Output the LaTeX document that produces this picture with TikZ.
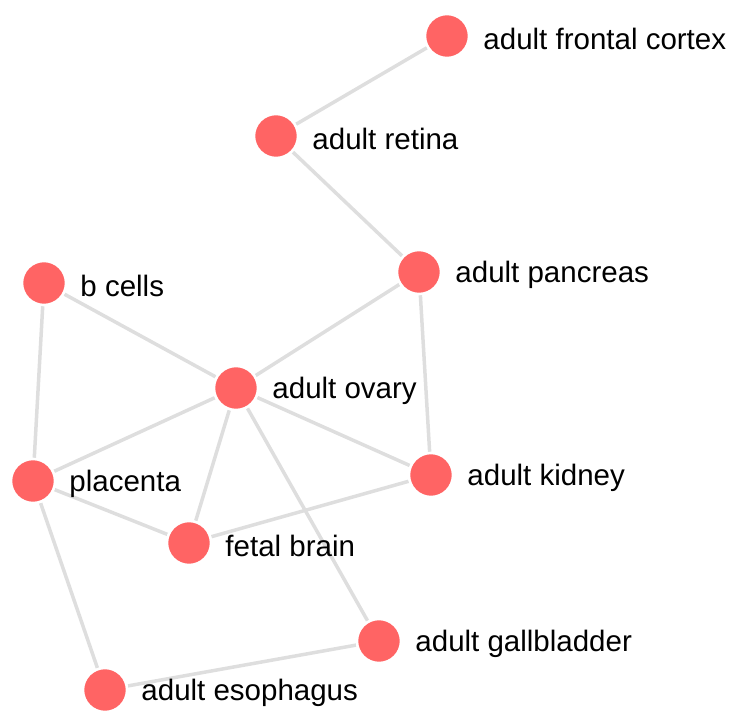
\documentclass[tikz,border=0pt]{standalone}
\usepackage{fontspec}
\setmainfont{Liberation Sans}
\usetikzlibrary{positioning}
\usetikzlibrary{backgrounds}
\definecolor{figRojo}{RGB}{255,100,100}
\definecolor{figArista}{RGB}{222,222,222}
\tikzset{
  nodo/.style={
    circle, fill=figRojo, draw=white, line width=2.5pt,
    minimum size=44pt, inner sep=0pt
  },
  etiqueta/.style={
    font=\fontsize{29.5}{32}\selectfont, inner sep=0pt, anchor=west,
    yshift=-3pt
  },
  arista/.style={line width=3.5pt, draw=figArista}
}
\begin{document}
\begin{tikzpicture}[x=1pt, y=-1pt, node distance=0pt and 13pt]
  \useasboundingbox (0,0) rectangle (733,714);

  \node[nodo] (cortex) at (447,36) {};
  \node[nodo] (retina) at (276,136) {};
  \node[nodo] (pancreas) at (419,272) {};
  \node[nodo] (bcells) at (44,283) {};
  \node[nodo] (ovary) at (236,388) {};
  \node[nodo] (placenta) at (33,481) {};
  \node[nodo] (kidney) at (431,475) {};
  \node[nodo] (fetal) at (189,543) {};
  \node[nodo] (gallbladder) at (379,641) {};
  \node[nodo] (esophagus) at (105,690) {};

  \node[etiqueta, right=of cortex] (lcortex) {adult frontal cortex};
  \node[etiqueta, right=of retina] (lretina) {adult retina};
  \node[etiqueta, right=of pancreas] (lpancreas) {adult pancreas};
  \node[etiqueta, right=of bcells] (lbcells) {b cells};
  \node[etiqueta, right=of ovary] (lovary) {adult ovary};
  \node[etiqueta, right=of placenta] (lplacenta) {placenta};
  \node[etiqueta, right=of kidney] (lkidney) {adult kidney};
  \node[etiqueta, right=of fetal] (lfetal) {fetal brain};
  \node[etiqueta, right=of gallbladder] (lgallbladder) {adult gallbladder};
  \node[etiqueta, right=of esophagus] (lesophagus) {adult esophagus};

  \begin{scope}[on background layer]
    \draw[arista] (cortex) -- (retina);
    \draw[arista] (retina) -- (pancreas);
    \draw[arista] (pancreas) -- (ovary);
    \draw[arista] (pancreas) -- (kidney);
    \draw[arista] (bcells) -- (ovary);
    \draw[arista] (bcells) -- (placenta);
    \draw[arista] (ovary) -- (placenta);
    \draw[arista] (ovary) -- (fetal);
    \draw[arista] (ovary) -- (kidney);
    \draw[arista] (ovary) -- (gallbladder);
    \draw[arista] (placenta) -- (fetal);
    \draw[arista] (fetal) -- (kidney);
    \draw[arista] (placenta) -- (esophagus);
    \draw[arista] (esophagus) -- (gallbladder);
  \end{scope}
\end{tikzpicture}
\end{document}
